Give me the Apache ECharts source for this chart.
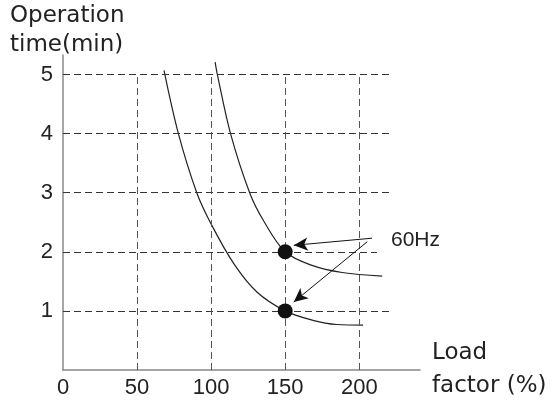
<!DOCTYPE html>
<html>
<head>
<meta charset="utf-8">
<script src="https://cdn.jsdelivr.net/npm/echarts@6/dist/echarts.min.js"></script>
<style>
html,body{margin:0;padding:0;background:#fff;}
#chart{width:552px;height:403px;}
</style>
</head>
<body>
<div id="chart"></div>
<script>
// ---- data ----
var xTicks = [0, 50, 100, 150, 200];
var yTicks = [1, 2, 3, 4, 5];
var hGridValues = [1, 2, 3, 4, 5];
var hGridEnds = [222, 212, 222, 222, 222];
var vGridValues = [50, 100, 150, 200];
var vGridTop = 5;
var curveUpper = [[102.7,5.21],[104.2,5.0],[113.1,4.0],[126.0,3.0],[135.3,2.53],[150,2.0],[168.1,1.77],[188.4,1.65],[215.5,1.59]];
var curveLower = [[68.2,5.07],[77.9,4.0],[90.3,3.0],[99.8,2.48],[115.3,1.80],[130.9,1.32],[150,1.0],[168.7,0.84],[184.8,0.77],[202.6,0.76]];
var dots = [[150,2],[150,1]];
var arrows = [
  [[208.6,2.23],[155.8,2.11]],
  [[205.4,2.17],[155.8,1.15]]
];
var label60 = '60Hz';
var yTitle = 'Operation\ntime(min)';
var xTitle = 'Load\nfactor (%)';

var chart = echarts.init(document.getElementById('chart'), null, {renderer:'canvas'});

var gridLines = [];
hGridValues.forEach(function(v, i){
  gridLines.push([{coord:[0, v], lineStyle:{color:'#333'}}, {coord:[hGridEnds[i], v]}]);
});
vGridValues.forEach(function(v){
  gridLines.push([{coord:[v, 0], lineStyle:{color:'#555'}}, {coord:[v, vGridTop]}]);
});

var arrowLines = arrows.map(function(a){
  return [{coord:a[0], symbol:'none'}, {coord:a[1], symbol:'arrow', symbolSize:[10,14]}];
});

var option = {
  animation: false,
  grid: {left:63, right:132, top:55, bottom:33, containLabel:false},
  xAxis: {
    type:'value', min:0, max:241, interval:50,
    axisLine:{show:true, lineStyle:{color:'#888', width:1.5}},
    axisTick:{show:false},
    splitLine:{show:false},
    axisLabel:{customValues:xTicks, margin:7, color:'#222', fontSize:22, fontFamily:'Liberation Sans'}
  },
  yAxis: {
    type:'value', min:0, max:5.33, interval:1,
    axisLine:{show:true, lineStyle:{color:'#888', width:1.5}},
    axisTick:{show:false},
    splitLine:{show:false},
    axisLabel:{customValues:yTicks, margin:10, color:'#222', fontSize:22, fontFamily:'Liberation Sans'}
  },
  graphic: [
    {type:'text', left:10, top:2, silent:true, style:{text:yTitle, fontSize:23, fontFamily:'DejaVu Sans', lineHeight:29, fill:'#222'}},
    {type:'text', left:432, top:337, silent:true, style:{text:xTitle, fontSize:23, fontFamily:'DejaVu Sans', lineHeight:33, fill:'#222'}},
    {type:'text', left:391, top:230, silent:true, style:{text:label60, fontSize:21, fontFamily:'Liberation Sans', fill:'#222'}}
  ],
  series: [
    {
      type:'line', data:[], silent:true,
      markLine:{
        silent:true, symbol:['none','none'], label:{show:false},
        lineStyle:{type:[7,4], width:1, color:'#333'},
        emphasis:{disabled:true},
        data:gridLines
      }
    },
    {
      type:'line', data:curveUpper, smooth:0.35, showSymbol:false, silent:true,
      lineStyle:{color:'#222', width:1.2}
    },
    {
      type:'line', data:curveLower, smooth:0.35, showSymbol:false, silent:true,
      lineStyle:{color:'#222', width:1.2}
    },
    {
      type:'scatter', data:dots, symbolSize:15, itemStyle:{color:'#111', opacity:1}, silent:true, z:5,
      markLine:{
        silent:true, label:{show:false}, emphasis:{disabled:true},
        lineStyle:{type:'solid', width:1, color:'#111'},
        itemStyle:{color:'#111'},
        data:arrowLines
      }
    }
  ]
};
chart.setOption(option);
</script>
</body>
</html>
